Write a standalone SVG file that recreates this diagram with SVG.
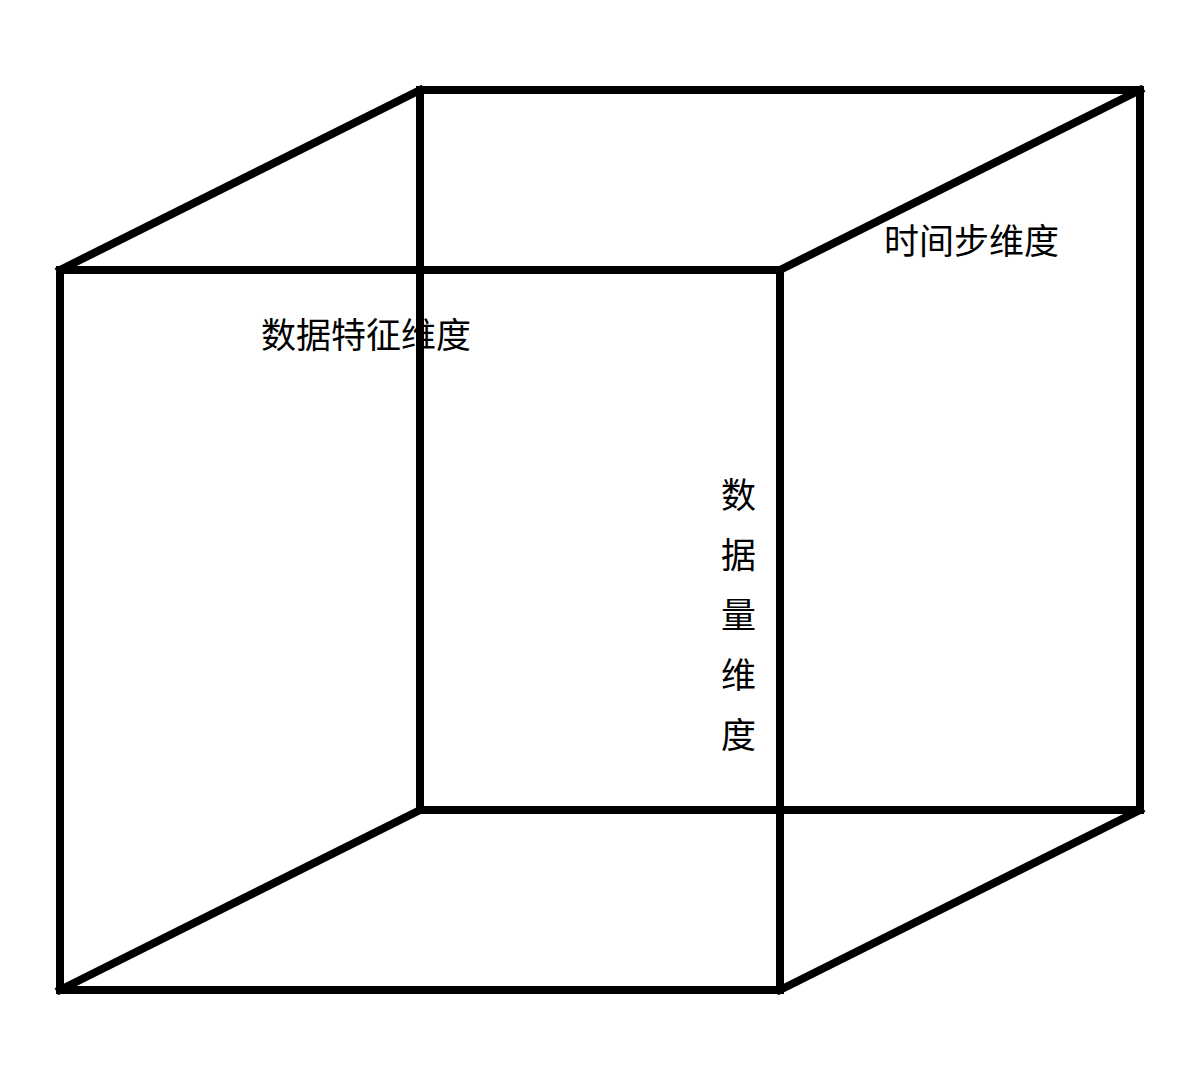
<svg xmlns="http://www.w3.org/2000/svg" width="1200" height="1080" viewBox="0 0 1200 1080">
<style>
.edge{fill:none;stroke:#000;stroke-width:8;stroke-linejoin:miter;stroke-linecap:square}
.lbl{font-family:"Noto Sans CJK SC","Liberation Sans",sans-serif;font-size:35px;fill:#000}
</style>
<rect width="1200" height="1080" fill="#fff"/>
<g id="connectors">
<rect class="edge" x="420" y="90" width="720" height="720"/>
<line class="edge" x1="60" y1="270" x2="420" y2="90"/>
<line class="edge" x1="780" y1="270" x2="1140" y2="90"/>
<line class="edge" x1="60" y1="990" x2="420" y2="810"/>
<line class="edge" x1="780" y1="990" x2="1140" y2="810"/>
<rect class="edge" x="60" y="270" width="720" height="720"/>
</g>
<g id="label-feature"><text class="lbl" x="261" y="348">数据特征维度</text></g>
<g id="label-time"><text class="lbl" x="884" y="254">时间步维度</text></g>
<g id="label-volume">
<text class="lbl" x="721" y="508">数</text>
<text class="lbl" x="721" y="568">据</text>
<text class="lbl" x="721" y="628">量</text>
<text class="lbl" x="721" y="688">维</text>
<text class="lbl" x="721" y="748">度</text>
</g>
</svg>
